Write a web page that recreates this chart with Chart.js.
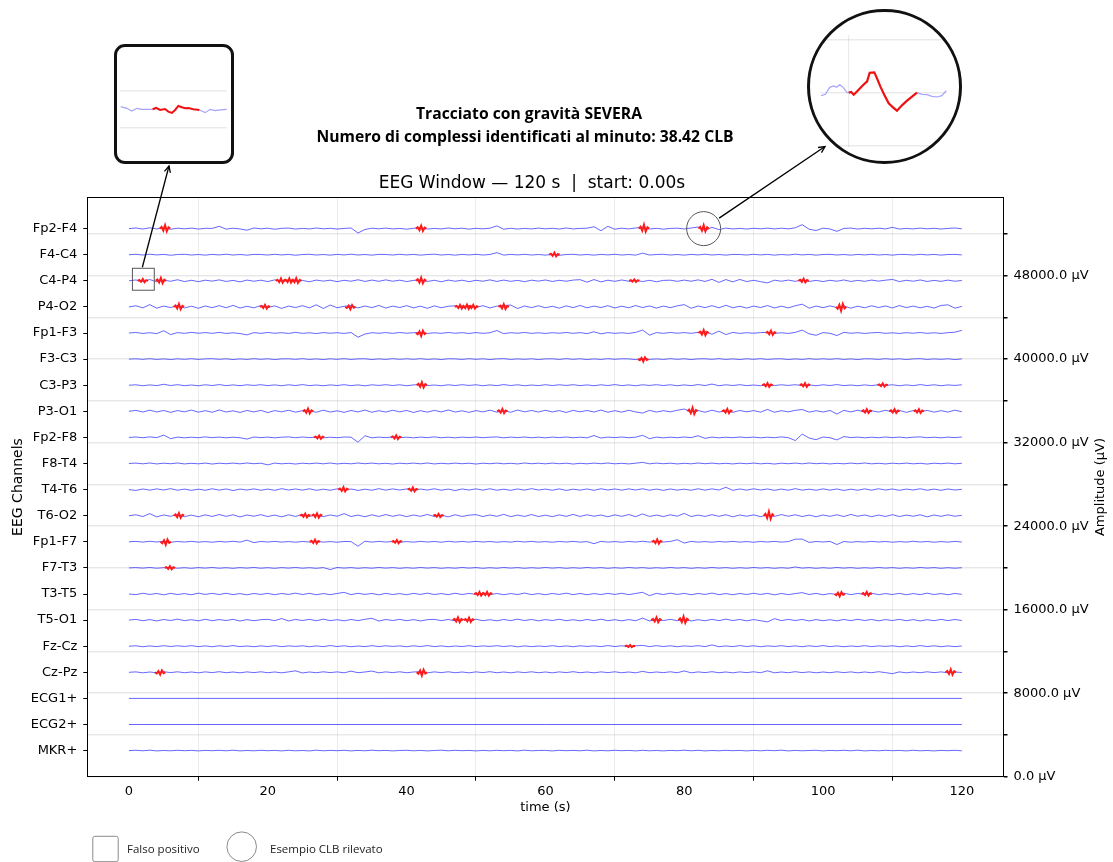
<!DOCTYPE html>
<html><head><meta charset="utf-8">
<script src="https://cdn.jsdelivr.net/npm/chart.js@4.4.1/dist/chart.umd.min.js"></script>
<style>
html,body{margin:0;padding:0;background:#fff;}
#wrap{position:relative;width:1113px;height:862px;overflow:hidden;background:#fff;}
#main{position:absolute;left:0;top:0;}
.inset{position:absolute;background:#fff;box-sizing:border-box;border:3px solid #111;overflow:hidden;}
#boxInset{left:114px;top:44px;width:120px;height:120px;border-radius:11px;}
#circInset{left:806.5px;top:9.3px;width:155px;height:155px;border-radius:50%;}
.inset canvas{position:absolute;}
</style></head><body>
<div id="wrap">
<canvas id="main" width="1113" height="862"></canvas>
<div id="boxInset" class="inset"><canvas id="c1" width="107" height="113" style="left:3px;top:0px"></canvas></div>
<div id="circInset" class="inset"><canvas id="c2" width="127" height="112" style="left:10.5px;top:22.7px"></canvas></div>
</div>
<script>
// ---------------- DATA ----------------
const channels = ['Fp2-F4','F4-C4','C4-P4','P4-O2','Fp1-F3','F3-C3','C3-P3','P3-O1','Fp2-F8','F8-T4',
  'T4-T6','T6-O2','Fp1-F7','F7-T3','T3-T5','T5-O1','Fz-Cz','Cz-Pz','ECG1+','ECG2+','MKR+'];
const channelSpacing = 2500; // µV between traces
const timeSec = Array.from({length:121},(_,i)=>i); // 1 s sampling grid, 0..120 s
const flatTimes = [0,120];
const xTickValues = [0,10,20,30,40,50,60,70,80,90,100,110,120];
const ampTickValues = [0,4000,8000,12000,16000,20000,24000,28000,32000,36000,40000,44000,48000,52000];

// deviations from channel baseline (µV), one value per second
const fp2f4 = [0,60,-40,80,-30,120,-60,40,-20,50, -40,30,20,220,-50,40,-30,-150,60,-20, 40,-60,30,50,-40,20,-30,60,-20,30,
 -40,20,60,-420,-80,40,-20,50,-30,20, -50,30,80,-40,20,-30,60,-20,40,-50, 30,-20,40,260,-60,30,-40,20,-30,50,
 -20,30,-40,60,-30,20,40,180,-200,220, -60,40,-30,60,120,-40,30,-50,20,40, -30,60,150,-180,120,-90,50,-30,20,-40,
 30,-20,50,-30,40,-20,80,380,-60,-180, 40,-30,-260,20,50,-40,30,-20,40,-30, 120,-40,20,-30,50,-20,30,-40,20,60, -20];
const f4c4 = [0,40,-30,50,-20,30,-50,20,40,-30, 20,-40,30,-20,50,-30,20,-40,30,20, -30,40,-20,30,-50,20,40,-30,20,-40,
 30,-20,50,-30,20,-40,30,20,-30,40, -20,30,-40,20,50,-30,20,-40,30,-20, 40,-30,20,200,-40,30,-20,40,-30,20,
 -40,30,-60,20,40,-30,20,-40,30,-20, 40,-30,20,-40,150,-30,20,40,-30,20, -40,30,-20,50,-30,20,-40,30,20,-30,
 40,-20,30,-40,20,-30,50,-20,30,-40, 20,40,-30,20,-40,30,-20,40,-30,20, -40,30,20,-30,40,-20,30,-40,20,30, -20];
const c4p4 = [0,80,-60,120,-90,60,-40,100,-70,50, -80,60,-30,90,-60,40,-100,70,-40,60, -70,90,-50,80,-60,40,-90,70,-30,60,
 -80,50,-40,100,-60,70,-50,90,-40,60, -70,40,80,-60,50,-90,70,-40,60,-80, 50,-40,90,-60,70,-50,40,-80,60,-30,
 80,-60,50,-40,70,110,-130,120,-100,60, -50,80,-40,60,-70,50,-90,40,60,-50, 70,-40,90,-60,140,-150,120,-100,130,-70,
 50,-80,-200,60,-40,70,-50,90,-60,40, -70,50,-40,80,-60,40,-50,70,-30,60, 130,-70,50,-40,80,-60,40,-50,70,-40, 30];
const p4o2 = [0,110,-90,220,-120,80,-60,140,-100,70, -130,90,-70,120,-80,150,-110,60,-90,130, -70,100,-140,80,-60,120,-90,200,-150,180,
 -80,60,130,-100,90,-70,140,-110,80,-60, 120,-90,70,-130,100,-80,60,110,-90,70, -60,120,-100,80,130,180,-150,90,-70,110,
 -80,60,-120,100,-70,140,-90,80,-60,120, -100,70,-80,130,-60,90,-110,80,-70,100, 220,-130,90,-70,120,-90,160,-80,60,-110,
 80,-60,130,-100,70,-90,110,260,-120,80, -70,100,-60,90,-120,70,-80,110,-60,90, -100,130,-70,80,-90,60,-110,140,200,-120, 50];
const fp1f3 = [0,50,-40,30,-60,220,-150,40,-30,60, -20,40,-30,60,-40,20,-50,-180,40,-30, 50,-20,30,-40,60,-30,20,-50,40,-20,
 30,-40,50,-400,-100,30,-20,40,-30,50, -20,30,60,-40,20,-30,50,-20,30,-40, 40,-30,20,240,-60,30,-20,50,-30,20,
 -40,30,-20,50,-30,40,-60,120,-80,40, -30,20,-40,60,280,-200,40,-30,50,-20, 40,-30,60,150,-120,180,-150,60,-40,30,
 -20,40,60,-30,20,-40,60,280,-80,-220, 40,-30,-240,60,-20,30,-40,20,50,-30, 20,-40,30,-20,50,-30,20,-40,30,80, 250];
const f3c3 = [0,30,-20,40,-30,20,-40,30,-20,40, -30,20,40,-20,30,-40,20,-30,40,-20, 30,-40,20,30,-20,40,-30,20,-40,30,
 -20,40,-30,20,30,-40,20,-30,40,-20, 30,-20,40,-30,20,-40,30,20,-30,40, -20,30,-40,20,40,-30,20,-20,30,-40,
 20,30,-30,40,-20,30,-40,20,-30,40, -20,30,20,-40,60,-30,20,-30,40,-20, 30,-40,20,30,-20,40,-30,20,-40,30,
 -20,40,-30,20,30,-40,20,-30,40,-20, 30,-20,40,-30,20,-40,30,20,-30,40, -20,30,-40,20,40,-30,20,-20,30,-40, 20];
const c3p3 = [0,40,-50,30,-40,90,-30,50,-40,20, -50,40,-30,60,-40,30,-50,40,-20,50, -40,30,-50,40,-30,60,-40,20,-50,30,
 -30,50,-40,30,-60,40,-20,50,-30,40, -50,30,60,-40,20,-50,40,-30,50,-20, 40,-50,30,-40,60,-30,40,-50,20,-40,
 50,-30,40,-20,50,-40,30,-50,40,-30, 60,-40,30,-50,40,-20,50,-30,40,-50, 30,-40,60,-30,110,-50,40,-30,50,-40,
 20,-50,60,-30,40,-20,50,-40,30,-50, 40,-30,60,-40,20,-50,30,-40,50,-20, 40,-50,30,-40,60,-30,40,-50,30,-20, 40];
const p3o1 = [0,90,-70,110,-60,80,-100,70,-50,120, -80,60,-90,130,-70,50,-110,80,-60,90, -120,70,-50,100,-80,60,40,-90,110,-70,
 50,-100,80,-60,120,-90,60,-70,100,-50, 80,-110,60,-80,90,-60,130,-70,50,-100, 70,-60,110,-80,60,-90,120,-50,80,-70,
 100,-60,70,-110,90,-50,80,-70,120,-90, 60,-80,100,-60,-170,90,-70,60,-50,100, 220,-60,80,-90,110,-70,60,-100,80,-50,
 70,-80,180,-90,60,-50,90,170,-80,60, -70,80,-260,90,-60,110,-80,50,-70,100, -60,80,-100,70,-50,90,-80,60,-70,110, -40];
const fp2f8 = [0,40,-30,50,-20,220,-120,30,-40,20, -30,50,-20,30,-40,20,-30,-160,40,-20, 30,-40,20,50,-30,40,-20,30,-40,20,
 -30,40,20,-460,160,-40,30,-20,40,-30, 20,-40,30,-20,50,-30,20,-40,30,-20, 40,-30,20,50,-40,30,-20,40,-30,20,
 -40,30,-20,40,-30,20,-40,180,-60,30, -20,40,-30,20,200,-120,30,-40,20,-30, 40,-20,160,-90,30,-40,20,-30,40,-20,
 30,-40,20,-30,50,-20,-300,320,-60,-220, 40,-30,-240,80,-20,30,-40,20,-30,40, -20,30,-40,20,50,-30,20,-40,30,-20, 40];
const f8t4 = [0,40,-30,50,-40,30,-20,50,-40,20, -30,40,-50,30,-20,40,-30,50,-20,30, -130,40,-30,20,-50,30,-20,40,-30,50,
 -40,20,-30,50,-20,40,-30,20,-50,30, -20,40,-30,50,-40,20,-30,40,-20,30, -50,30,-20,40,-30,20,-40,50,-20,30,
 -30,40,-20,30,-50,20,-30,40,-20,50, -30,20,-40,30,110,-30,40,-20,30,-40, 20,-30,50,-20,40,-30,20,-40,30,-20,
 40,-30,20,-50,30,-20,40,-30,50,-20, 30,-40,20,-30,40,-20,50,-30,20,-40, 30,-20,40,-30,20,-50,30,-20,40,-30, 20];
const t4t6 = [0,-80,60,-50,70,-40,90,-60,50,-70, 40,-60,80,-50,60,-90,50,-40,70,-60, 50,-70,90,-40,60,-50,80,-70,40,-60,
 70,-50,60,-80,40,-60,90,-50,70,-40, 60,-70,50,-40,80,-60,50,-90,60,-40, 70,-50,80,-60,40,-70,60,-50,90,-40,
 50,-60,70,-80,40,-50,60,-70,80,-40, 60,-50,70,-40,80,-60,50,-70,60,-50, 40,-60,80,-50,70,-40,220,-70,60,-50,
 80,-40,60,-70,50,-60,90,-50,40,-60, 70,-50,60,-80,40,-60,70,-50,80,-40, 60,-70,50,-40,80,-60,50,-70,60,-40, 30];
const t6o2 = [0,90,-80,200,-110,70,-60,130,-90,60, -100,80,-70,110,-60,90,-120,70,-50,100, -80,60,-110,90,-70,120,-60,80,-90,70,
 -50,200,-80,60,-100,90,-70,110,-60,80, -90,70,-60,120,-80,60,-110,90,-70,50, 100,-80,70,-60,130,-90,60,-70,110,-80,
 50,-90,80,-60,120,-70,90,-50,70,-100, 80,-60,110,-90,170,-70,60,-80,90,-50, 220,-80,60,-70,100,-60,90,-110,70,-50,
 80,-90,60,-70,110,-50,90,-80,60,-100, 70,-60,90,-80,120,-50,70,-90,60,-70, 100,-80,60,-50,90,-110,70,-60,80,-50, 40];
const fp1f7 = [0,40,-30,50,-20,60,-40,30,-20,40, -30,20,-40,30,-20,50,-30,160,-80,30, -20,40,-30,20,-40,30,-20,50,-30,20,
 -40,30,20,-420,60,-30,40,-20,30,-40, 20,-30,40,-20,30,-40,50,-20,30,-30, 40,-20,30,-40,20,-30,50,-20,40,-30,
 20,-40,30,-20,40,-30,20,-180,40,-30, 20,-40,30,-20,50,-30,40,-20,30,200, -120,40,-30,20,-40,30,-20,40,-30,20,
 -40,30,-20,40,-30,20,250,260,-60,30, -20,40,-260,30,-40,20,-30,40,-20,30, -40,20,-30,50,-20,30,-40,20,-30,40, -20];
const f7t3 = [0,30,-20,40,-30,20,40,-30,20,-40, 30,-20,40,-30,20,-40,30,-20,40,-30, 20,-40,30,-20,40,-30,20,-40,30,-160,
 40,-20,30,-40,20,-30,40,-20,30,-40, 20,-30,40,-20,30,-40,20,-30,40,-20, 30,-40,20,-30,40,-20,30,-40,20,-30,
 40,-20,30,-40,20,-30,40,-20,30,-40, 20,-30,40,-20,30,-40,20,-30,40,-20, 30,-40,20,-30,40,-20,30,-40,20,-30,
 40,-20,30,-40,20,-30,90,-20,30,-40, 20,-30,40,-20,30,-40,20,-30,40,-20, 30,-40,20,-30,40,-20,30,-40,20,-30, 20];
const t3t5 = [0,-60,70,-40,50,-80,60,-50,40,-70, 80,-40,60,-50,70,-60,40,-80,50,-40, 60,-70,50,-40,80,-50,60,-70,40,-60,
 50,160,-60,70,-40,50,-80,60,-50,40, -70,60,-40,80,-50,40,-60,70,-50,60, -40,80,-60,50,-70,40,-50,90,-60,40,
 -70,50,-40,80,-60,50,-70,40,-50,60, -40,70,-60,50,160,-160,60,-50,80,-40, 60,-70,50,-40,90,-60,40,-70,50,-50,
 70,-40,60,-80,50,-60,40,130,-50,60, -70,40,-50,80,-60,50,-40,70,-60,40, -50,60,-70,40,-60,80,-50,40,-70,50, -30];
const t5o1 = [0,70,-60,50,-80,60,-40,90,-50,40, -70,80,-60,50,-40,70,-90,50,-60,40, 70,-50,150,-80,60,-40,70,-60,90,-50,
 40,-70,60,-50,80,170,-90,60,-40,70, -60,50,-80,40,70,-50,60,-70,50,-40, 80,-60,40,-70,60,-50,90,-40,60,-70,
 50,-40,80,-60,40,-70,60,-50,90,-60, 40,-70,50,-60,190,-80,60,-40,70,-50, 60,-80,40,-60,70,-50,90,-40,60,-70,
 50,-60,-170,140,-50,70,-40,60,-80,50, -60,40,-70,60,-50,80,-40,60,-70,50, -40,70,-60,50,-80,40,-60,70,-50,60, -40];
const fzcz = [0,40,-50,30,-40,50,-30,40,-20,50, -40,30,-50,40,-30,60,-40,20,-50,30, -30,50,-40,30,-20,40,-50,30,-40,60,
 -30,40,-50,20,-40,50,-30,40,-20,30, -50,40,-30,60,-40,30,-50,20,-30,50, -40,30,-20,50,-30,40,-60,30,-40,20,
 -30,50,-40,30,-50,40,-20,30,-40,60, -30,40,-50,30,80,-40,50,-30,40,-50, 30,-20,50,-40,120,-50,30,-40,60,-30,
 40,-50,30,-20,50,-40,30,-50,40,-30, 60,-40,30,-50,20,-30,50,-40,30,-20, 40,-50,30,-40,60,-30,40,-50,30,-40, 20];
const czpz = [0,40,-50,30,-40,60,-30,50,-40,30, -50,40,-30,60,-40,30,-50,40,-30,50, -40,30,-50,40,140,-60,30,-40,50,-30,
 40,-50,110,-40,30,120,-50,40,-30,50, -40,30,60,-50,40,-30,50,-40,30,-50, 40,-30,60,-40,30,-50,40,-30,50,-40,
 30,-50,40,-30,60,-40,30,-50,40,-30, 50,-40,30,-50,90,-40,30,-30,50,-40, 130,-50,40,-30,60,-40,30,-50,40,-30,
 50,-40,140,-50,30,-40,60,-30,40,-50, 30,-40,50,-30,40,-50,30,-40,60,-30, -130,40,-50,30,-40,50,-30,40,-50,30, -20];
const ecg1 = [0,0];
const ecg2 = [0,0];
const mkr = [0,30,-20,40,-30,10,-20,30,-10,20, -30,20,-10,30,-20,40,-30,10,-20,30, -10,20,-30,30,-20,10,-30,40,-20,20,
 -10,30,-30,20,-20,40,-10,20,-30,10, 30,-20,20,-30,10,40,-20,30,-10,20, -30,20,-20,30,-10,20,-30,40,-20,10,
 20,-30,30,-10,20,-20,40,-30,10,-20, 30,-10,20,-30,30,-20,10,-30,20,-10, 40,-20,30,-30,10,-20,30,-10,20,-30,
 20,-20,30,-10,40,-30,20,-20,10,30, -30,20,-10,30,-20,40,-30,10,-20,30, -10,20,-30,30,-20,10,-30,20,-10,30, -20];

// detected CLB complexes (red): channel, centre time (s), signed amplitude factor
const clbChan = ['Fp2-F4','Fp2-F4','Fp2-F4','Fp2-F4','F4-C4',
 'C4-P4','C4-P4','C4-P4','C4-P4','C4-P4','C4-P4','C4-P4','C4-P4',
 'P4-O2','P4-O2','P4-O2','P4-O2','P4-O2','P4-O2','P4-O2','P4-O2',
 'Fp1-F3','Fp1-F3','Fp1-F3','F3-C3','C3-P3','C3-P3','C3-P3','C3-P3',
 'P3-O1','P3-O1','P3-O1','P3-O1','P3-O1','P3-O1','P3-O1','Fp2-F8','Fp2-F8','T4-T6','T4-T6',
 'T6-O2','T6-O2','T6-O2','T6-O2','T6-O2','Fp1-F7','Fp1-F7','Fp1-F7','Fp1-F7','F7-T3',
 'T3-T5','T3-T5','T3-T5','T3-T5','T5-O1','T5-O1','T5-O1','T5-O1','Fz-Cz','Cz-Pz','Cz-Pz','Cz-Pz'];
const clbTime = [5.2,42.1,74.2,82.8,61.3,
 2.0,4.6,21.9,23.1,24.1,42.1,72.8,97.2,
 7.2,19.6,31.9,47.7,48.7,49.6,54.0,102.6,
 42.1,82.8,92.5,74.1,42.2,92.0,97.4,108.6,
 25.8,53.8,81.2,86.2,106.3,110.3,113.8,27.4,38.5,30.9,40.9,
 7.2,25.4,27.1,44.6,92.2,5.3,26.8,38.6,76.1,5.9,
 50.5,51.6,102.4,106.3,47.4,49.0,76.0,79.9,72.2,4.5,42.2,118.4];
const clbAmp = [1.2,1,1.3,1.2,0.7,
 0.6,1,0.8,0.8,0.9,1.1,0.5,0.7,
 1,0.7,-0.8,0.7,0.8,0.7,0.9,-1.3,
 -1,1,0.8,-0.8,1,0.7,0.7,0.6,
 0.9,0.8,1.2,0.8,0.7,0.7,0.7,0.6,0.7,0.8,0.7,
 0.9,0.7,0.8,0.6,1.4,-1,0.7,0.6,0.8,0.6,
 0.7,0.7,-0.8,0.7,0.9,0.8,0.9,1.2,0.4,-0.8,-1.1,1];
const clbOffsets = [-0.75,-0.5,-0.25,0,0.25,0.5,0.75];
const clbWave = [0,130,-150,280,-220,100,0];

// annotation targets (false positive box / example CLB circle)
const fpBoxChan = 'C4-P4', fpBoxTime = [0.5,3.65], fpBoxAmp = [-900,1200];
const exChan = 'Fp2-F4', exTime = 82.8;

// zoomed insets
const boxInsetT = [0.51,0.68,0.82,0.96,1.10,1.24,1.40];
const boxInsetV = [294,110,-184,110,0,0,0];
const boxInsetRedT = [1.40,1.50,1.61,1.75,1.84,1.94,2.03,2.12,2.22,2.31,2.40,2.54,2.71];
const boxInsetRedV = [0,147,-73,37,-257,-404,-73,367,220,110,147,0,-73];
const boxInsetT2 = [2.71,2.87,3.01,3.15,3.29,3.47];
const boxInsetV2 = [-73,-367,0,-147,-73,0];
const circInsetT = [78.27,78.54,78.81,79.06,79.23,79.44,79.65,79.86,80.0];
const circInsetV = [-228,-127,405,506,405,607,405,51,0];
const circInsetRedT = [80.0,80.15,80.31,80.56,80.84,81.15,81.31,81.6,81.77,81.98,82.23,82.5,82.77,83.02,83.33,83.65,83.96,84.27];
const circInsetRedV = [0,51,-152,152,506,860,1518,1543,1088,455,-177,-810,-1113,-1366,-961,-607,-304,0];
const circInsetT2 = [84.27,84.58,84.9,85.21,85.52,85.83,86.1];
const circInsetV2 = [0,-127,-152,-278,-329,-228,152];

// ---------------- BUILD ----------------
const traces = [fp2f4,f4c4,c4p4,p4o2,fp1f3,f3c3,c3p3,p3o1,fp2f8,f8t4,t4t6,t6o2,fp1f7,f7t3,t3t5,t5o1,fzcz,czpz,ecg1,ecg2,mkr];
traces.forEach((a,i)=>{ if(a.length!==121 && a.length!==2) throw new Error('bad length '+channels[i]+' '+a.length); });
const N = channels.length;
const baseOf = name => (N - channels.indexOf(name)) * channelSpacing;
const BLUE = 'rgba(0,0,255,0.6)';
const datasets = channels.map((name,i)=>{
  const vals = traces[i];
  const times = vals.length === 2 ? flatTimes : timeSec;
  const b = baseOf(name);
  return {data: times.map((t,k)=>({x:t, y:b+vals[k]})), borderColor:BLUE, borderWidth:1, pointRadius:0, tension:0, yAxisID:'y', order:1};
});
const redPts = [];
clbTime.forEach((t,e)=>{
  const b = baseOf(clbChan[e]);
  clbOffsets.forEach((o,k)=> redPts.push({x:t+o, y:b + clbAmp[e]*clbWave[k]}));
  redPts.push({x:t+0.8, y:null});
});
datasets.push({data:redPts, borderColor:'#ff1a1a', borderWidth:2, pointRadius:0, tension:0, spanGaps:false, yAxisID:'y', order:-1});

Chart.defaults.font.family = '"DejaVu Sans", sans-serif';
Chart.defaults.font.size = 13;
Chart.defaults.color = '#000';

const YMAX = 55500;
const chanTicks = channels.map(c=>baseOf(c)).sort((a,b)=>a-b);

const annot = {
  id:'annot',
  afterDraw(chart){
    const ctx = chart.ctx, ca = chart.chartArea, xs = chart.scales.x, ys = chart.scales.y;
    ctx.save();
    // frame
    ctx.strokeStyle = '#000'; ctx.lineWidth = 1;
    ctx.strokeRect(Math.round(ca.left)+0.5, Math.round(ca.top)+0.5, Math.round(ca.right-ca.left), Math.round(ca.bottom-ca.top));
    // titles
    ctx.fillStyle = '#000'; ctx.textAlign = 'center'; ctx.textBaseline = 'middle';
    ctx.font = 'bold 15.7px "Open Sans"';
    ctx.fillText('Tracciato con gravità SEVERA', 529, 115);
    ctx.fillText('Numero di complessi identificati al minuto: 38.42 CLB', 525, 138);
    ctx.font = '17px "DejaVu Sans"';
    ctx.fillText('EEG Window — 120 s  |  start: 0.00s', 532, 184);
    ctx.font = '13px "DejaVu Sans"';
    ctx.fillText('time (s)', (ca.left+ca.right)/2, 808);
    const cy = (ca.top+ca.bottom)/2;
    ctx.save(); ctx.translate(1101, cy); ctx.rotate(-Math.PI/2); ctx.fillText('Amplitude (µV)',0,0); ctx.restore();
    ctx.font = '14px "DejaVu Sans"';
    ctx.save(); ctx.translate(18, cy); ctx.rotate(-Math.PI/2); ctx.fillText('EEG Channels',0,0); ctx.restore();
    // false positive box
    const bb = baseOf(fpBoxChan);
    const bx0 = xs.getPixelForValue(fpBoxTime[0]), bx1 = xs.getPixelForValue(fpBoxTime[1]);
    const by0 = ys.getPixelForValue(bb+fpBoxAmp[1]), by1 = ys.getPixelForValue(bb+fpBoxAmp[0]);
    ctx.strokeStyle = '#555'; ctx.lineWidth = 1;
    ctx.strokeRect(bx0, by0, bx1-bx0, by1-by0);
    // example circle
    const ex = xs.getPixelForValue(exTime), ey = ys.getPixelForValue(baseOf(exChan));
    const r = 17;
    ctx.beginPath(); ctx.arc(ex, ey, r, 0, Math.PI*2); ctx.stroke();
    // arrows
    function arrow(x0,y0,x1,y1){
      ctx.strokeStyle = '#000'; ctx.lineWidth = 1.3;
      ctx.beginPath(); ctx.moveTo(x0,y0); ctx.lineTo(x1,y1); ctx.stroke();
      const a = Math.atan2(y1-y0, x1-x0), L = 7, w = 0.45;
      ctx.beginPath();
      ctx.moveTo(x1 - L*Math.cos(a-w), y1 - L*Math.sin(a-w));
      ctx.lineTo(x1, y1);
      ctx.lineTo(x1 - L*Math.cos(a+w), y1 - L*Math.sin(a+w));
      ctx.stroke();
    }
    arrow((bx0+bx1)/2 - 1, by0 - 1, 169, 166);
    const hx = 825, hy = 146.5, d = Math.hypot(hx-ex, hy-ey);
    arrow(ex + (hx-ex)/d*r*1.1, ey + (hy-ey)/d*r*1.1, hx, hy);
    // legend
    ctx.strokeStyle = '#8a8a8a'; ctx.lineWidth = 1;
    ctx.beginPath(); ctx.roundRect(92.8, 836.3, 25.4, 25.4, 2); ctx.stroke();
    ctx.beginPath(); ctx.arc(241.7, 846.7, 14.8, 0, Math.PI*2); ctx.stroke();
    ctx.fillStyle = '#222'; ctx.textAlign = 'left'; ctx.font = '11.5px "Open Sans"';
    ctx.fillText('Falso positivo', 127, 849.5);
    ctx.fillText('Esempio CLB rilevato', 270, 849.5);
    ctx.restore();
  }
};

new Chart(document.getElementById('main'), {
  type:'line',
  data:{datasets},
  options:{
    responsive:false, animation:false, events:[],
    layout:{padding:{top:197.3, left:0, right:0, bottom:0}},
    plugins:{legend:{display:false}, tooltip:{enabled:false}, title:{display:false}},
    scales:{
      x:{type:'linear', min:-6, max:126,
        afterBuildTicks:s=>{ s.ticks = xTickValues.map(v=>({value:v})); },
        ticks:{autoSkip:false, maxRotation:0, padding:3, callback:v=> (v%20===0 ? String(v) : '')},
        grid:{color:c=> (c.tick && c.tick.value%20!==0) ? 'rgba(0,0,0,0.075)' : 'rgba(0,0,0,0)',
              tickColor:c=> (c.tick && c.tick.value%20!==0) ? '#000' : 'rgba(0,0,0,0)', tickLength:4, lineWidth:1},
        border:{display:false},
        afterFit:s=>{ s.height = 85.3; }
      },
      y:{type:'linear', position:'left', min:0, max:YMAX,
        afterBuildTicks:s=>{ s.ticks = chanTicks.map(v=>({value:v})); },
        ticks:{autoSkip:false, padding:6, callback:v=> channels[N - Math.round(v/channelSpacing)]},
        grid:{drawOnChartArea:false, tickLength:4, tickColor:'#000'},
        border:{display:false},
        afterFit:s=>{ s.width = 87.3; }
      },
      y2:{type:'linear', position:'right', min:0, max:YMAX,
        afterBuildTicks:s=>{ s.ticks = ampTickValues.map(v=>({value:v})); },
        ticks:{autoSkip:false, padding:6, callback:v=> (v%8000===0 ? v.toFixed(1)+' µV' : '')},
        grid:{color:'rgba(0,0,0,0.09)', lineWidth:1.5, tickLength:4, tickColor:'#000'},
        border:{display:false},
        afterFit:s=>{ s.width = 109.5; }
      }
    }
  },
  plugins:[annot]
});

function insetChart(id, sets, xr, yr, xt, yt){
  new Chart(document.getElementById(id), {
    type:'line', data:{datasets:sets},
    options:{responsive:false, animation:false, events:[],
      layout:{padding:0},
      plugins:{legend:{display:false}, tooltip:{enabled:false}},
      scales:{
        x:{type:'linear', min:xr[0], max:xr[1], afterBuildTicks:s=>{ s.ticks = xt.map(v=>({value:v})); },
           ticks:{display:false}, grid:{display:xt.length>0, drawTicks:false, color:'rgba(0,0,0,0.08)', lineWidth:1.2},
           border:{display:false}, afterFit:s=>{ s.height = 0; }},
        y:{type:'linear', min:yr[0], max:yr[1], afterBuildTicks:s=>{ s.ticks = yt.map(v=>({value:v})); },
           ticks:{display:false}, grid:{drawTicks:false, color:'rgba(0,0,0,0.08)', lineWidth:1.5},
           border:{display:false}, afterFit:s=>{ s.width = 0; }}
      }}
  });
}
const pts = (T,V,b)=>T.map((t,k)=>({x:t, y:b+V[k]}));
const LBLUE = 'rgba(90,90,255,0.55)';
insetChart('c1', [
  {data:pts(boxInsetRedT,boxInsetRedV,46000), borderColor:'#ee1111', borderWidth:2, pointRadius:0},
  {data:pts(boxInsetT,boxInsetV,46000), borderColor:LBLUE, borderWidth:1.2, pointRadius:0},
  {data:pts(boxInsetT2,boxInsetV2,46000), borderColor:LBLUE, borderWidth:1.2, pointRadius:0}
], [0.49,3.48], [40413,52865], [], [44000,48000]);
insetChart('c2', [
  {data:pts(circInsetRedT,circInsetRedV,52000), borderColor:'#ee1111', borderWidth:2.2, pointRadius:0},
  {data:pts(circInsetT,circInsetV,52000), borderColor:LBLUE, borderWidth:1.2, pointRadius:0},
  {data:pts(circInsetT2,circInsetV2,52000), borderColor:LBLUE, borderWidth:1.2, pointRadius:0}
], [78.2,86.15], [47875,56379], [80], [48000,52000,56000]);
</script>
</body></html>
